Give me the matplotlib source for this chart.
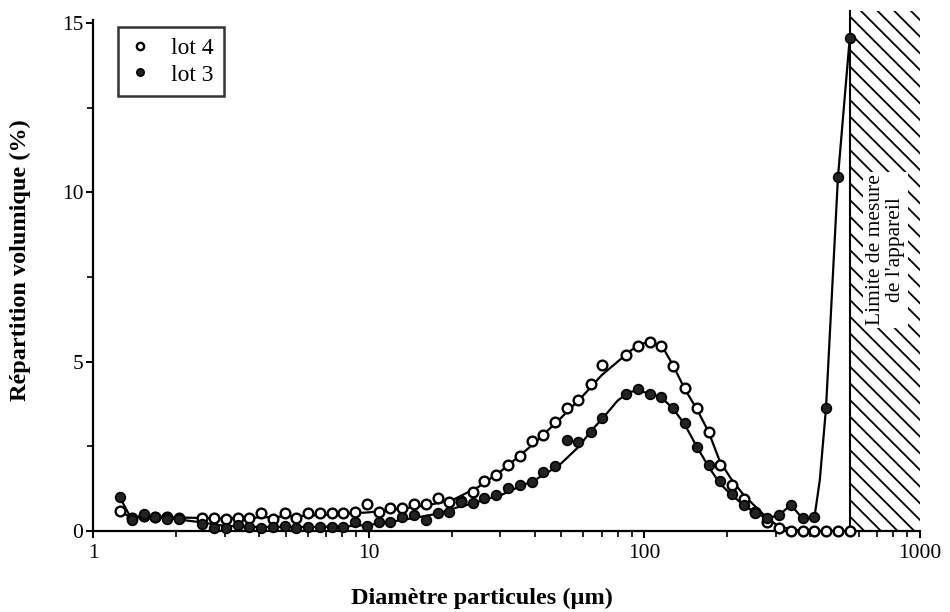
import numpy as np
import matplotlib
matplotlib.use('Agg')
import matplotlib.pyplot as plt
import matplotlib.ticker as mticker
from matplotlib.patches import Rectangle

# particle diameters (um), shared by both lots
DIAM = [1.25, 1.38, 1.53, 1.68, 1.86, 2.05, 2.49, 2.75, 3.03, 3.35,
        3.69, 4.07, 4.49, 4.96, 5.47, 6.03, 6.66, 7.34, 8.10, 8.94,
        9.86, 10.9, 12.0, 13.2, 14.6, 16.1, 17.8, 19.6, 21.6, 23.9,
        26.3, 29.0, 32.0, 35.3, 39.0, 43.0, 47.4, 52.3, 57.7, 63.9,
        70.5, 85.8, 94.7, 104.5, 115, 127, 140, 155, 171, 188,
        208, 229, 253, 279, 308, 340, 375, 414, 456, 504, 556]

LOT4 = [0.59, 0.38, 0.45, 0.42, 0.40, 0.38, 0.37, 0.37, 0.35, 0.37,
        0.37, 0.52, 0.35, 0.52, 0.37, 0.52, 0.52, 0.52, 0.52, 0.57,
        0.80, 0.55, 0.67, 0.67, 0.80, 0.80, 0.96, 0.85, 0.90, 1.15,
        1.48, 1.65, 1.95, 2.21, 2.66, 2.83, 3.23, 3.64, 3.87, 4.34,
        4.90, 5.20, 5.46, 5.58, 5.47, 4.88, 4.21, 3.62, 2.93, 1.95,
        1.36, 0.95, 0.55, 0.28, 0.08, 0.0, 0.0, 0.0, 0.0, 0.0, 0.0]

LOT3 = [1.00, 0.32, 0.50, 0.42, 0.35, 0.35, 0.20, 0.10, 0.10, 0.18,
        0.12, 0.08, 0.12, 0.15, 0.10, 0.13, 0.12, 0.12, 0.12, 0.28,
        0.15, 0.28, 0.28, 0.40, 0.47, 0.32, 0.54, 0.57, 0.87, 0.82,
        0.96, 1.06, 1.26, 1.36, 1.46, 1.75, 1.93, 2.68, 2.64, 2.93,
        3.35, 4.05, 4.18, 4.04, 3.97, 3.62, 3.18, 2.49, 1.95, 1.48,
        1.08, 0.77, 0.54, 0.37, 0.47, 0.77, 0.37, 0.40, 3.62, 10.45, 14.55]

# smoothed curves drawn through the points
FIT4_X = [1.25, 1.38, 1.53, 2, 3, 4, 6, 8, 10, 13, 16, 20, 25, 30, 35, 40,
          50, 60, 70, 80, 90, 100, 108, 118, 127, 140, 155, 171, 188, 208,
          230, 253, 279, 308, 350, 400, 556]
FIT4_Y = [0.6, 0.38, 0.45, 0.4, 0.37, 0.4, 0.45, 0.5, 0.55, 0.65, 0.75, 0.9,
          1.3, 1.75, 2.2, 2.6, 3.35, 4.0, 4.6, 5.0, 5.35, 5.55, 5.57, 5.35,
          4.9, 4.2, 3.6, 2.93, 2.05, 1.5, 1.05, 0.72, 0.38, 0.13, 0.03, 0.0, 0.0]

FIT3_X = [1.25, 1.38, 1.53, 1.7, 2, 2.5, 3, 4, 6, 8, 10, 12, 15, 18, 21, 24,
          27, 30, 35, 40, 45, 50, 58, 64, 71, 80, 88, 95, 105, 115, 127,
          140, 155, 171, 188, 208, 229, 253, 279, 308, 340, 375, 414, 433,
          456, 504, 556]
FIT3_Y = [1.0, 0.35, 0.48, 0.4, 0.35, 0.25, 0.15, 0.12, 0.12, 0.13, 0.18,
          0.27, 0.4, 0.52, 0.7, 0.82, 0.95, 1.05, 1.3, 1.5, 1.75, 2.0, 2.5,
          2.95, 3.35, 3.85, 4.1, 4.15, 4.05, 3.95, 3.62, 3.15, 2.49, 1.9,
          1.4, 1.05, 0.77, 0.54, 0.37, 0.47, 0.77, 0.37, 0.4, 1.5, 3.62,
          10.45, 14.55]

LIMIT = 556

plt.rcParams['font.family'] = ['Liberation Serif', 'DejaVu Serif']
plt.rcParams['hatch.linewidth'] = 1.3


def main():
   fig = plt.figure(figsize=(9.5, 6.12), dpi=100)
   ax = fig.add_axes([93 / 950, 81 / 612, 827 / 950, 511.4 / 612])

   # instrument limit zone
   ax.add_patch(Rectangle((LIMIT, 0), 1000 - LIMIT, 15.35, fill=False, hatch='\\\\',
                          edgecolor='black', linewidth=0, clip_on=False, zorder=1))
   ax.axvline(LIMIT, ymin=0, ymax=15.35 / 15.1, color='black', lw=1.5, clip_on=False, zorder=2)
   ax.text(748, 8.3, "Limite de mesure\nde l'appareil", rotation=90, ha='center', va='center',
           multialignment='center', fontsize=15.5, linespacing=1.1, zorder=3,
           bbox=dict(facecolor='white', edgecolor='none', pad=2))

   ax.plot(FIT4_X, FIT4_Y, color='black', lw=1.6, zorder=4)
   ax.plot(FIT3_X, FIT3_Y, color='black', lw=1.6, zorder=4)
   ax.plot(DIAM, LOT4, ls='none', marker='o', ms=7, mfc='white', mec='black', mew=1.7,
           label='lot 4', zorder=5, clip_on=False)
   ax.plot(DIAM, LOT3, ls='none', marker='o', ms=7, mfc='#222222', mec='black', mew=1.2,
           label='lot 3', zorder=6, clip_on=False)

   ax.set_xscale('log')
   ax.set_xlim(1, 1000)
   ax.set_ylim(0, 15.1)
   ax.xaxis.set_major_locator(mticker.FixedLocator([1, 10, 100, 1000]))
   ax.xaxis.set_major_formatter(mticker.FixedFormatter(['1', '10', '100', '1000']))
   ax.xaxis.set_minor_locator(mticker.LogLocator(subs=np.arange(2, 10)))
   ax.xaxis.set_minor_formatter(mticker.NullFormatter())
   ax.set_yticks([0, 5, 10, 15])
   ax.yaxis.set_minor_locator(mticker.MultipleLocator(2.5))

   for sp in ['top', 'right']:
      ax.spines[sp].set_visible(False)
   for sp in ['left', 'bottom']:
      ax.spines[sp].set_linewidth(1.6)
   ax.tick_params(which='major', direction='out', length=5, width=1.4, labelsize=15.5)
   ax.tick_params(axis='y', which='major', pad=2)
   ax.tick_params(axis='x', which='major', pad=4)
   ax.tick_params(which='minor', direction='out', length=4, width=1.2)

   ax.set_xlabel('Diamètre particules (µm)', fontsize=17.5, fontweight='bold')
   ax.set_ylabel('Répartition volumique (%)', fontsize=17.5, fontweight='bold')
   ax.xaxis.set_label_coords(0.47, -0.112)
   ax.yaxis.set_label_coords(-0.075, 0.53)

   leg = ax.legend(loc='upper left', bbox_to_anchor=(0.03, 0.985), borderaxespad=0,
                   fontsize=17, frameon=True, fancybox=False, edgecolor='black',
                   markerscale=0.75, handlelength=1.0, handletextpad=0.8,
                   borderpad=0.45, labelspacing=0.2)
   leg.get_frame().set_linewidth(1.8)

   plt.savefig('out.png', dpi=100)
   plt.close()


if __name__ == '__main__':
   main()
